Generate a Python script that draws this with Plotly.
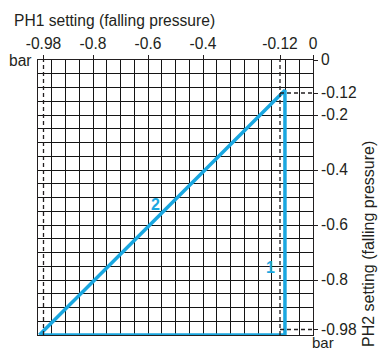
import plotly.graph_objects as go

# Axis ticks (bar)
x_ticks = [-0.98, -0.8, -0.6, -0.4, -0.12, 0]
x_labels = ["-0.98", "-0.8", "-0.6", "-0.4", "-0.12", "0"]
y_ticks = [0, -0.12, -0.2, -0.4, -0.6, -0.8, -0.98]
y_labels = ["0", "-0.12", "-0.2", "-0.4", "-0.6", "-0.8", "-0.98"]

# Setting limits (bar)
ph1_limits = [-0.98, -0.12]
ph2_limits = [-0.98, -0.12]

# Setting zone outline: base, diagonal (2) and vertical edge (1)
zone_x = [-0.995, -0.102, -0.102, -0.995]
zone_y = [-1.0, -0.11, -1.0, -1.0]

# Curve label positions
curve_names = ["1", "2"]
curve_label_x = [-0.153, -0.571]
curve_label_y = [-0.753, -0.527]

BLUE = "#1aa7e0"
INK = "#231f20"
FONT = "Liberation Sans"

W, H = 378, 350
ML, MR, MT, MB = 38, 65, 60, 15
PW, PH = W - ML - MR, H - MT - MB


def px_x(px):
    return (px - ML) / PW


def px_y(py):
    return (H - MB - py) / PH


fig = go.Figure()

fig.add_trace(go.Scatter(
    x=zone_x, y=zone_y, mode="lines",
    line=dict(color=BLUE, width=3.5),
    cliponaxis=False, showlegend=False, hoverinfo="skip",
))

# Dashed limit lines
for v in ph1_limits:
    fig.add_shape(type="line", xref="x", yref="y", x0=v, x1=v, y0=-1, y1=0,
                  line=dict(color=INK, width=1.3, dash="4px,3px"))
for v in ph2_limits:
    fig.add_shape(type="line", xref="x", yref="y", x0=ph1_limits[1], x1=0.005,
                  y0=v, y1=v, line=dict(color=INK, width=1.3, dash="4px,3px"))

for name, cx, cy in zip(curve_names, curve_label_x, curve_label_y):
    fig.add_annotation(x=cx, y=cy, xref="x", yref="y", text="<b>%s</b>" % name,
                       showarrow=False, font=dict(family=FONT, size=16, color=BLUE))

fig.add_annotation(x=px_x(12), y=px_y(20.5), xref="paper", yref="paper",
                   text="PH1 setting (falling pressure)", showarrow=False,
                   xanchor="left", yanchor="middle",
                   font=dict(family=FONT, size=15.6, color=INK))
fig.add_annotation(x=px_x(368), y=px_y(244), xref="paper", yref="paper",
                   text="PH2 setting (falling pressure)", showarrow=False,
                   textangle=-90, xanchor="center", yanchor="middle",
                   font=dict(family=FONT, size=16, color=INK))
fig.add_annotation(x=px_x(34), y=px_y(60), xref="paper", yref="paper",
                   text="bar", showarrow=False, xanchor="right", yanchor="middle",
                   font=dict(family=FONT, size=15.6, color=INK))
fig.add_annotation(x=px_x(311), y=px_y(342.5), xref="paper", yref="paper",
                   text="bar", showarrow=False, xanchor="left", yanchor="middle",
                   borderpad=0,
                   font=dict(family=FONT, size=15, color=INK))

axis_common = dict(
    range=[-1, 0], ticks="outside", ticklen=4, tickwidth=1, tickcolor=INK,
    showline=True, linecolor=INK, linewidth=1, mirror=True,
    showgrid=False, zeroline=False, fixedrange=True,
    tickfont=dict(family=FONT, size=15.6, color=INK),
    minor=dict(tick0=0, dtick=0.05, showgrid=True, gridcolor="#141414", gridwidth=1, ticks=""),
)

fig.update_xaxes(side="top", tickvals=x_ticks, ticktext=x_labels, **axis_common)
fig.update_yaxes(side="right", tickvals=y_ticks, ticktext=y_labels, **axis_common)

fig.update_layout(
    width=W, height=H,
    margin=dict(l=ML, r=MR, t=MT, b=MB),
    paper_bgcolor="white", plot_bgcolor="white",
    showlegend=False,
)

fig.write_html("out.html", config={"displayModeBar": False})
